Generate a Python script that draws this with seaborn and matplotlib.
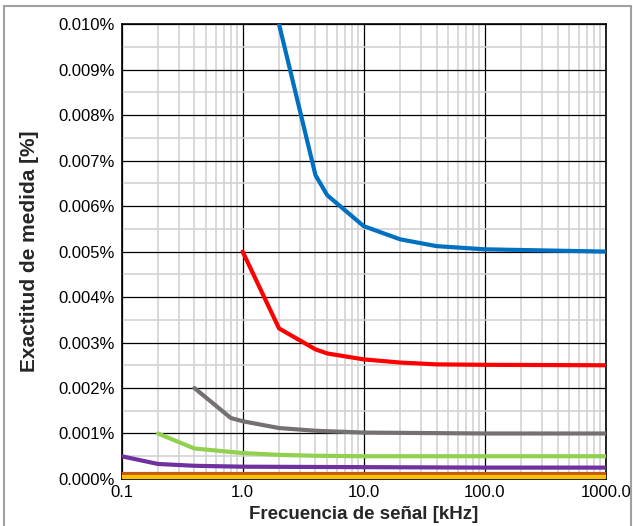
import matplotlib
matplotlib.use("Agg")
import matplotlib.pyplot as plt
import matplotlib.ticker as mticker
from matplotlib.patches import Rectangle
import seaborn as sns
import pandas as pd

# ---- data (values in %) ----
freq_blue = [2, 4, 5, 10, 20, 40, 100, 1000]
acc_blue = [0.0100, 0.00668, 0.00624, 0.00556, 0.00527, 0.00512, 0.00505, 0.00500]

freq_red = [1, 2, 4, 5, 10, 20, 40, 100, 1000]
acc_red = [0.0050, 0.00331, 0.00285, 0.00276, 0.00263, 0.00256, 0.00252, 0.00251, 0.00250]

freq_grey = [0.4, 0.8, 1, 2, 4, 10, 100, 1000]
acc_grey = [0.0020, 0.00134, 0.00127, 0.00112, 0.00106, 0.00102, 0.00100, 0.00100]

freq_green = [0.2, 0.4, 1, 2, 4, 10, 100, 1000]
acc_green = [0.0010, 0.00067, 0.00057, 0.00053, 0.00051, 0.00050, 0.00050, 0.00050]

freq_purple = [0.1, 0.2, 0.4, 1, 10, 100, 1000]
acc_purple = [0.0005, 0.00033, 0.00029, 0.00027, 0.00026, 0.00025, 0.00025]

freq_orange = [0.1, 1000]
acc_orange = [0.00011, 0.00011]

freq_yellow = [0.1, 1000]
acc_yellow = [0.00005, 0.00005]

series_names = ["A", "B", "C", "D", "E", "F", "G"]
series_colors = ["#0070C0", "#FF0000", "#767171", "#92D050", "#7030A0", "#C55A11", "#FFC000"]

x_ticks = [0.1, 1, 10, 100, 1000]
x_tick_labels = ["0.1", "1.0", "10.0", "100.0", "1000.0"]

frames = []
for name, f, a in zip(series_names,
                      [freq_blue, freq_red, freq_grey, freq_green, freq_purple, freq_orange, freq_yellow],
                      [acc_blue, acc_red, acc_grey, acc_green, acc_purple, acc_orange, acc_yellow]):
    frames.append(pd.DataFrame({"freq": f, "acc": a, "serie": name}))
df = pd.concat(frames, ignore_index=True)

sns.set_style("white")
plt.rcParams["font.family"] = ["Liberation Sans", "DejaVu Sans"]

fig = plt.figure(figsize=(6.33, 5.26), dpi=100)
ax = fig.add_axes([0.192, 0.0894, 0.765, 0.8646])

sns.lineplot(data=df, x="freq", y="acc", hue="serie", hue_order=series_names,
             palette=dict(zip(series_names, series_colors)), sort=False,
             linewidth=3, legend=False, ax=ax, zorder=5)

ax.set_xscale("log")
ax.set_xlim(0.1, 1000)
ax.set_ylim(0, 0.010)

ax.set_xticks(x_ticks)
ax.set_xticklabels(x_tick_labels)
ax.xaxis.set_minor_locator(mticker.LogLocator(base=10, subs=range(2, 10), numticks=20))
ax.xaxis.set_minor_formatter(mticker.NullFormatter())
ax.yaxis.set_major_locator(mticker.MultipleLocator(0.001))
ax.yaxis.set_minor_locator(mticker.MultipleLocator(0.0005))
ax.yaxis.set_major_formatter(mticker.FuncFormatter(lambda v, p: f"{v:.3f}%"))

ax.grid(which="minor", color="#d0d0d0", linewidth=1.1, zorder=0)
ax.grid(which="major", color="black", linewidth=0.9, zorder=1)
ax.set_axisbelow(True)

ax.tick_params(axis="both", which="both", length=0, labelsize=12, colors="black")
ax.tick_params(axis="x", pad=4)
ax.tick_params(axis="y", pad=5)

for s in ax.spines.values():
    s.set_color("black")
    s.set_linewidth(1.2)

ax.set_xlabel("Frecuencia de señal [kHz]", fontsize=13.5, fontweight="bold", labelpad=5)
ax.set_ylabel("Exactitud de medida [%]", fontsize=15, fontweight="bold", labelpad=14)

fig.patches.append(Rectangle((4 / 633, -0.05), (631 - 4) / 633, 1.05 - 6 / 526,
                             transform=fig.transFigure, fill=False,
                             edgecolor="#a0a0a0", linewidth=1.5))

fig.savefig("out.png", dpi=100)
